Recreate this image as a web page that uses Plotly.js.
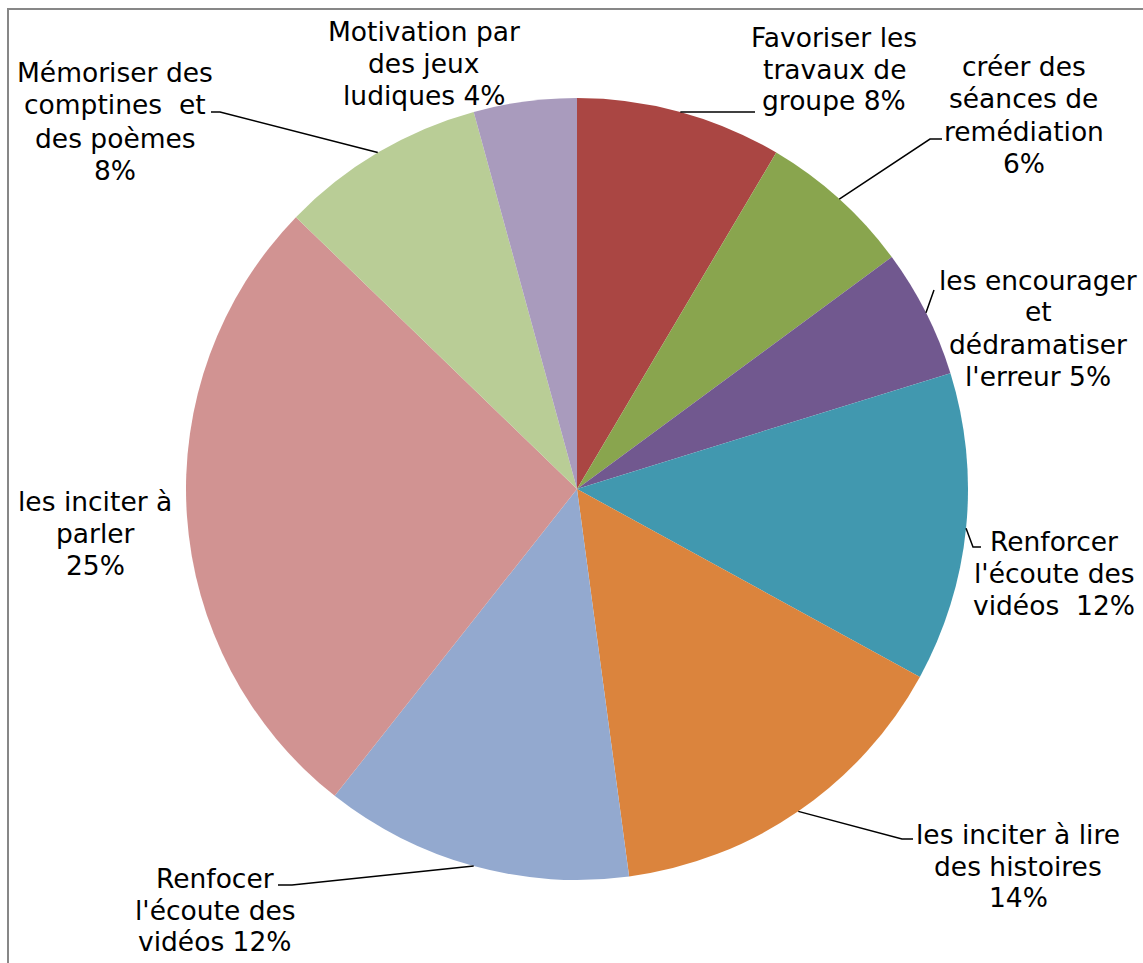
<!DOCTYPE html>
<html>
<head>
<meta charset="utf-8">
<script src="https://cdn.plot.ly/plotly-3.0.1.min.js"></script>
<style>
  html, body { margin: 0; padding: 0; background: #ffffff; }
  #chart { width: 1143px; height: 963px; }
</style>
</head>
<body>
<div id="chart"></div>
<script>
// ---- data ----
const categories = [
  "Favoriser les travaux de groupe",
  "créer des séances de remédiation",
  "les encourager et dédramatiser l'erreur",
  "Renforcer l'écoute des vidéos",
  "les inciter à lire des histoires",
  "Renfocer l'écoute des vidéos",
  "les inciter à parler",
  "Mémoriser des comptines et des poèmes",
  "Motivation par des jeux ludiques"
];
const values = [8, 6, 5, 12, 14, 12, 25, 8, 4];
const labelLines = [
  ["Favoriser les", "travaux de", "groupe 8%"],
  ["créer des", "séances de", "remédiation", "6%"],
  ["les encourager", "et", "dédramatiser", "l'erreur 5%"],
  ["Renforcer", "l'écoute des", "vidéos\u00A0\u00A012%"],
  ["les inciter à lire", "des histoires", "14%"],
  ["Renfocer", "l'écoute des", "vidéos 12%"],
  ["les inciter à", "parler", "25%"],
  ["Mémoriser des", "comptines\u00A0\u00A0et", "des poèmes", "8%"],
  ["Motivation par", "des jeux", "ludiques 4%"]
];
const colors = ["#AA4643", "#89A54E", "#71588F", "#4198AF", "#DB843D",
                "#93A9CF", "#D19392", "#B9CD96", "#A99BBD"];

// ---- layout geometry (pixels) ----
const W = 1143, H = 963;
const M = { l: 186, r: 175, t: 98, b: 83 };
const PW = W - M.l - M.r, PH = H - M.t - M.b;
const px = x => (x - M.l) / PW;
const py = y => 1 - (y - M.t) / PH;

// label placement: center x and line-center y's
const labelPos = [
  { cx: 834,  cy: [37, 69, 100] },
  { cx: 1024, cy: [67, 99, 131, 163] },
  { cx: 1038, cy: [280, 312, 344, 376] },
  { cx: 1054, cy: [541, 573, 605] },
  { cx: 1018, cy: [834, 866, 897] },
  { cx: 215,  cy: [878, 910, 942] },
  { cx: 95,   cy: [501, 533, 565] },
  { cx: 115,  cy: [73, 105, 138, 170] },
  { cx: 424,  cy: [31, 63, 95] }
];
// leader line points beyond the slice edge (label side)
const leaderPts = [
  [[755, 112]],
  [[930, 139], [942, 139]],
  [[934, 290]],
  [[973, 547], [981, 547]],
  [[902, 839], [913, 839]],
  [[292, 885], [278, 885]],
  null,
  [[220, 112], [211, 112]],
  null
];

const total = values.reduce((a, b) => a + b, 0);
const cxPie = M.l + PW / 2, cyPie = M.t + PH / 2, R = Math.min(PW, PH) / 2;

const annotations = [];
labelLines.forEach((lines, i) => {
  lines.forEach((t, j) => {
    annotations.push({
      xref: "paper", yref: "paper",
      x: px(labelPos[i].cx), y: py(labelPos[i].cy[j]),
      xanchor: "center", yanchor: "middle",
      text: t, showarrow: false,
      font: { family: "DejaVu Sans, Verdana, sans-serif", size: 26.5, color: "#000000" }
    });
  });
});

const shapes = [];
let cum = 0;
values.forEach((v, i) => {
  const mid = (cum + v / 2) / total * 2 * Math.PI;
  cum += v;
  if (!leaderPts[i]) return;
  const sx = cxPie + R * Math.sin(mid), sy = cyPie - R * Math.cos(mid);
  let d = "M " + px(sx) + " " + py(sy);
  leaderPts[i].forEach(p => { d += " L " + px(p[0]) + " " + py(p[1]); });
  shapes.push({
    type: "path", xref: "paper", yref: "paper", path: d,
    line: { color: "#000000", width: 1.5 }
  });
});
// outer chart frame
shapes.push({
  type: "rect", xref: "paper", yref: "paper",
  x0: px(8), x1: px(1160), y0: py(980), y1: py(9),
  line: { color: "#878787", width: 2 }, fillcolor: "rgba(0,0,0,0)"
});

const trace = {
  type: "pie",
  labels: categories,
  values: values,
  sort: false,
  direction: "clockwise",
  rotation: 0,
  textinfo: "none",
  hoverinfo: "label+percent",
  marker: { colors: colors, line: { width: 0 } },
  showlegend: false,
  automargin: false
};

const layout = {
  width: W, height: H,
  margin: M,
  paper_bgcolor: "#ffffff",
  plot_bgcolor: "#ffffff",
  showlegend: false,
  annotations: annotations,
  shapes: shapes
};

Plotly.newPlot("chart", [trace], layout, { displayModeBar: false, staticPlot: true });
</script>
</body>
</html>
